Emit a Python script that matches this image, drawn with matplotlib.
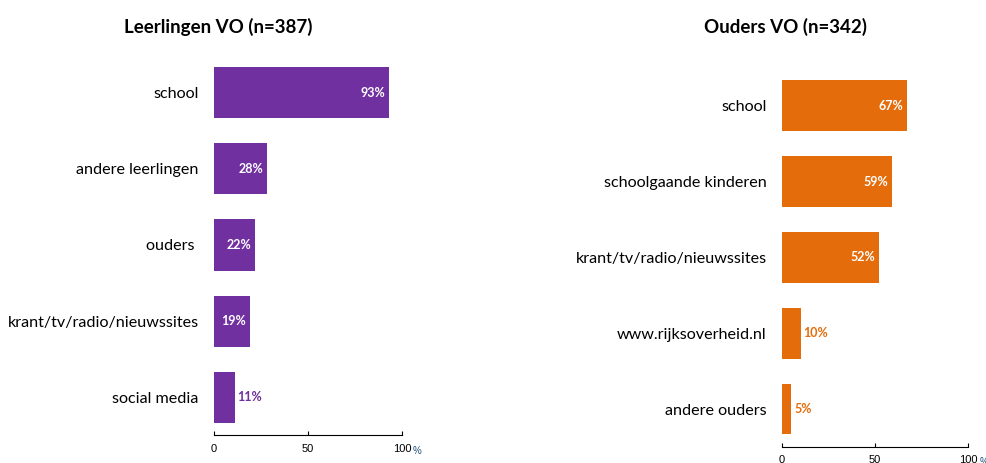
import matplotlib.pyplot as plt

plt.rcParams['font.family'] = ['Lato', 'DejaVu Sans']

# Leerlingen VO
cat_l = ['school', 'andere leerlingen', 'ouders ', 'krant/tv/radio/nieuwssites', 'social media']
val_l = [93, 28, 22, 19, 11]
# Ouders VO
cat_o = ['school', 'schoolgaande kinderen', 'krant/tv/radio/nieuwssites', 'www.rijksoverheid.nl', 'andere ouders']
val_o = [67, 59, 52, 10, 5]

paars = '#7030A0'
oranje = '#E46C0A'

fig = plt.figure(figsize=(9.87, 4.63), dpi=100)
ax1 = fig.add_axes([0.2168, 0.0594, 0.1905, 0.823])
ax2 = fig.add_axes([0.7923, 0.0346, 0.1885, 0.8186])


def teken(ax, cats, vals, kleur, drempel):
    y = list(range(len(cats)))
    ax.barh(y, vals, height=0.67, color=kleur)
    ax.set_xlim(0, 100)
    ax.set_ylim(len(cats) - 0.5, -0.5)
    ax.set_yticks(y)
    ax.set_yticklabels(cats, fontsize=11.6)
    ax.tick_params(axis='y', length=0, pad=11)
    ax.set_xticks([0, 50, 100])
    ax.set_xticklabels(['0', '50', '100'], fontsize=8, family='Liberation Sans')
    ax.tick_params(axis='x', direction='in', length=3, width=0.8, pad=6)
    for s in ['top', 'right', 'left']:
        ax.spines[s].set_visible(False)
    ax.spines['bottom'].set_linewidth(0.8)
    for yi, v in zip(y, vals):
        if v > drempel:
            ax.text(v - 2, yi, f'{v}%', ha='right', va='center', color='white',
                    fontsize=9, fontweight='bold')
        else:
            ax.text(v + 1.5, yi, f'{v}%', ha='left', va='center', color=kleur,
                    fontsize=9, fontweight='bold')
    ax.annotate('%', xy=(100, 0), xycoords=('data', 'axes fraction'),
                xytext=(8, -7.5), textcoords='offset points', fontsize=7,
                color='#1F4E79', family='Liberation Sans', va='top', ha='left')


teken(ax1, cat_l, val_l, paars, 15)
teken(ax2, cat_o, val_o, oranje, 15)

fig.text(218 / 987, 1 - 27 / 463, 'Leerlingen VO (n=387)', ha='center', va='center',
         fontsize=13.5, fontweight='bold')
fig.text(786 / 987, 1 - 27 / 463, 'Ouders VO (n=342)', ha='center', va='center',
         fontsize=13.5, fontweight='bold')

fig.savefig('out.png', dpi=100)
